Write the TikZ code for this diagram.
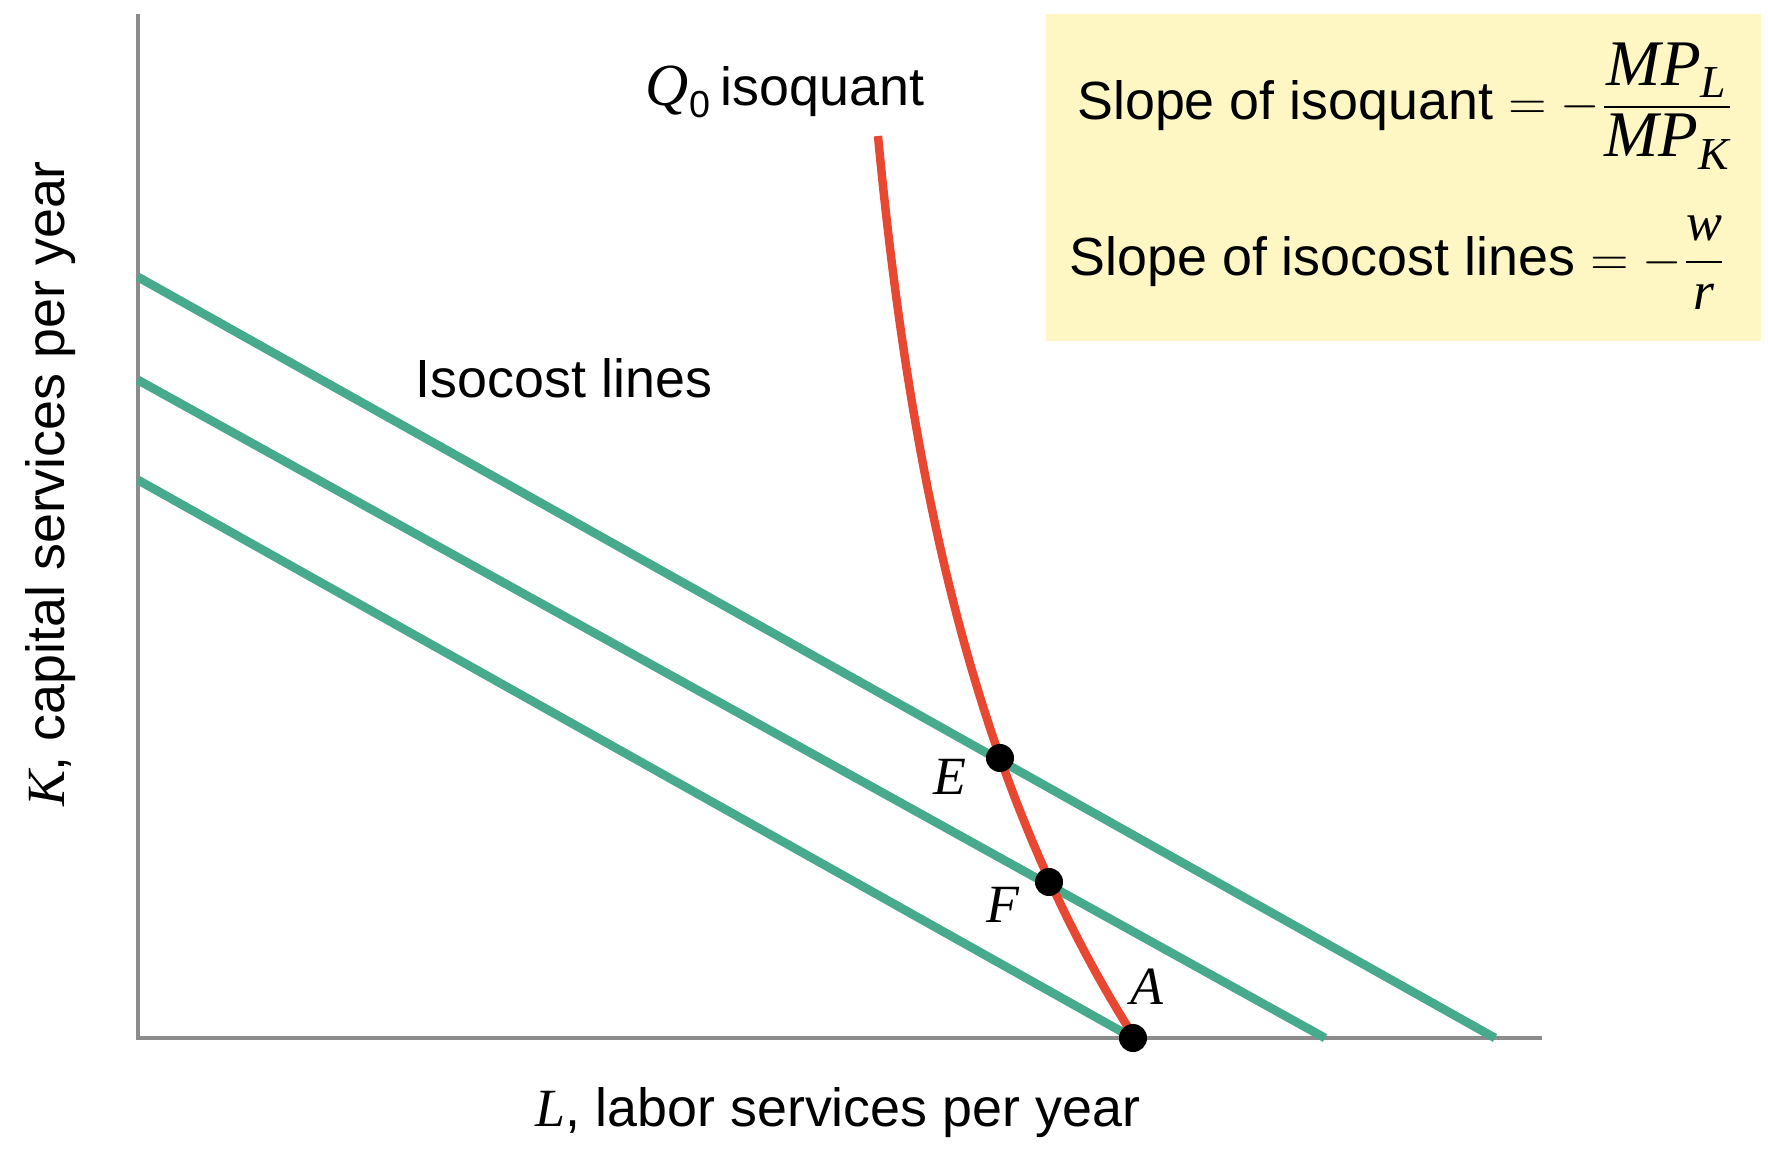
\documentclass[tikz,border=0pt]{standalone}
\usepackage{amsmath}
\usepackage{fontspec}
\setmainfont{Liberation Sans}
\newfontfamily\timesfont{Liberation Serif}
\newcommand{\itv}[1]{{\timesfont\itshape #1}}
\newcommand{\bigv}[1]{\text{\fontsize{18.5pt}{20pt}\selectfont\itv{#1}}}
\newcommand{\subv}[1]{\text{\fontsize{13pt}{14pt}\selectfont\itv{#1}}}
\newcommand{\lbl}{\fontsize{15.3pt}{18pt}\selectfont}
\definecolor{isocostgreen}{RGB}{72,170,140}
\definecolor{isoquantred}{RGB}{232,72,50}
\definecolor{notebox}{RGB}{255,247,195}
\definecolor{axisgray}{RGB}{140,140,140}

\begin{document}
\begin{tikzpicture}[
    x=0.01cm, y=-0.01cm,
    axis/.style={draw=axisgray, line width=1pt},
    isocost/.style={draw=isocostgreen, line width=2.5pt},
    isoquant/.style={draw=isoquantred, line width=2.4pt},
    dot/.style={circle, fill=black, inner sep=0pt, minimum size=0.28cm},
    txt/.style={font=\lbl, inner sep=0pt},
    ptlabel/.style={font=\lbl\timesfont\itshape, inner sep=0pt}
]
\useasboundingbox (0,0) rectangle (1768,1154);
% slope box
\fill[notebox] (1046,14) rectangle (1761,341);
\node[txt] (slopeq) at (1406,106) {Slope of isoquant $= -\dfrac{\bigv{MP}_{\subv{L}}}{\bigv{MP}_{\subv{K}}}$};
\node[txt] (slopec) at (1398,263) {Slope of isocost lines $= -\dfrac{\text{\itv{w}}}{\text{\itv{r}}}$};
% axes
\coordinate (origin) at (138,1038);
\coordinate (ytop) at (138,14);
\coordinate (xend) at (1542,1038);
\draw[axis] (ytop) -- (origin) -- (xend);
% isocost lines
\foreach \ky/\lx in {277/1495, 380/1325, 480/1133}
    \draw[isocost] (138,\ky) -- (\lx,1038);
% isoquant
\coordinate (E) at (1000,758);
\coordinate (F) at (1049,882);
\coordinate (A) at (1133,1038);
\draw[isoquant] plot[domain=136:1038, samples=90, variable=\t] ({832.8+33.94*exp(0.0021*\t)}, \t);
\node[dot] (dotE) at (E) {};
\node[dot] (dotF) at (F) {};
\node[dot] (dotA) at (A) {};
% labels
\node[ptlabel] (labE) at (950,777) {E};
\node[ptlabel] (labF) at (1003,905) {F};
\node[ptlabel] (labA) at (1147,987) {A};
\node[txt] (qlabel) at (785,92) {$\text{\fontsize{17pt}{18pt}\selectfont\itv{Q}}_{\text{0}}$\,isoquant};
\node[txt] (costlabel) at (564,378) {Isocost lines};
\node[txt] (xlabel) at (838,1113) {\itv{L}, labor services per year};
\node[txt, rotate=90] (ylabel) at (51,484) {\itv{K}, capital services per year};
\end{tikzpicture}
\end{document}
